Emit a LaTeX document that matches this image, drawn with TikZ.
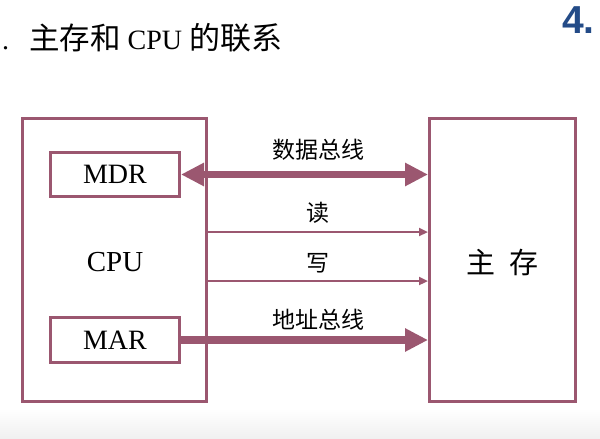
\documentclass[tikz,border=0pt]{standalone}
\usepackage{fontspec}
\setmainfont{Liberation Serif}
\newfontfamily\cjk{Noto Sans CJK SC}
\newfontfamily\headfont{Liberation Sans}
\usetikzlibrary{arrows.meta}
\definecolor{bord}{RGB}{155,87,112}
\definecolor{numblue}{RGB}{35,75,135}
\begin{document}
\begin{tikzpicture}[x=1pt,y=-1pt,
  box/.style={draw=bord,line width=3pt,inner sep=0pt},
  bus/.style={draw=bord,line width=7.5pt},
  bigtip/.tip={Triangle[length=23pt,width=22pt]},
  ctl/.style={draw=bord,line width=2.3pt,-{Triangle[length=9pt,width=8pt]}},
  lbl/.style={font=\cjk\fontsize{23}{25}\selectfont,inner sep=0pt},
  reg/.style={font=\fontsize{28}{30}\selectfont,inner sep=0pt}]
\useasboundingbox (0,0) rectangle (600,439);
\shade[top color=white,bottom color=black!6] (0,408) rectangle (600,439);
% title
\node[anchor=base west,inner sep=0pt] (title) at (2,49)
  {\fontsize{28}{30}\selectfont .\hspace{20pt}{\cjk\fontsize{30.5}{32}\selectfont 主存和} CPU {\cjk\fontsize{31}{32}\selectfont 的联系}};
\node[anchor=base west,inner sep=0pt,text=numblue,font=\headfont\bfseries\fontsize{39}{40}\selectfont] (num) at (562,33) {4.};
% boxes
\node[box,minimum width=184pt,minimum height=283pt] (cpu) at (114.5,260) {};
\node[box,minimum width=129pt,minimum height=44pt] (mdr) at (115,174.5) {};
\node[box,minimum width=129pt,minimum height=45pt] (mar) at (115,340) {};
\node[box,minimum width=146pt,minimum height=283pt] (main) at (502.5,260) {};
\node[reg] (mdrt) at (mdr.center) {MDR};
\node[reg] (mart) at (mar.center) {MAR};
\node[reg,font=\fontsize{29}{30}\selectfont] (cput) at (115,262) {CPU};
\node[font=\cjk\fontsize{29}{30}\selectfont,inner sep=0pt] (mainl) at (502.5,262) {主\hspace{0.45em}存};
% buses
\draw[bus,bigtip-bigtip] (mdr.east) -- (main.west |- mdr.east);
\draw[bus,-bigtip] (mar.east) -- (main.west |- mar.east);
\path (cpu.east) ++(0,-28) coordinate (rd);
\path (cpu.east) ++(0,21) coordinate (wr);
\draw[ctl] (rd) -- (rd -| main.west);
\draw[ctl] (wr) -- (wr -| main.west);
% labels
\node[lbl] (l1) at (318,150) {数据总线};
\node[lbl] (l2) at (318,213) {读};
\node[lbl] (l3) at (318,263) {写};
\node[lbl] (l4) at (318,320) {地址总线};
\end{tikzpicture}
\end{document}
